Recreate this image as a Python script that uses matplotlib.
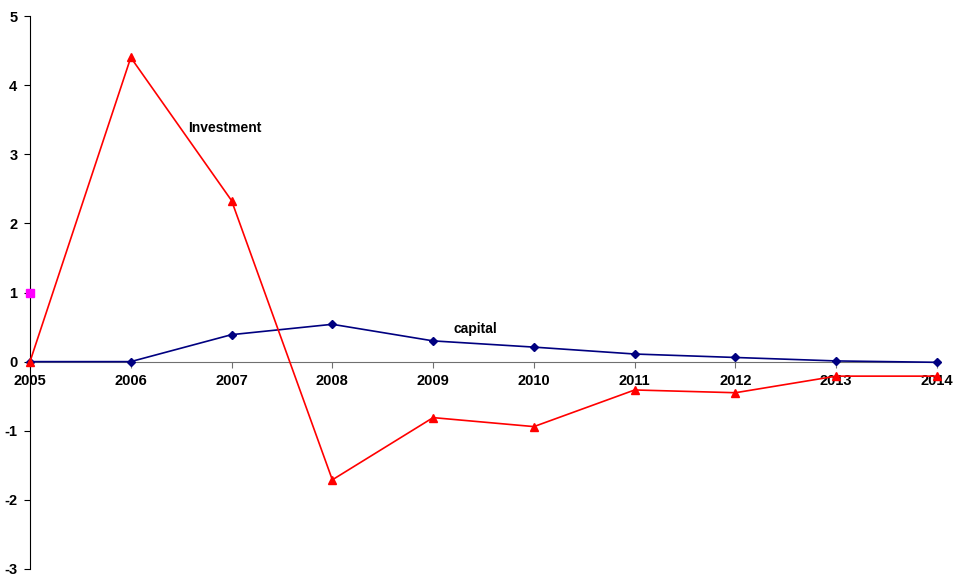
import matplotlib
matplotlib.use("Agg")
import matplotlib.pyplot as plt

plt.rcParams["axes.unicode_minus"] = False

years = [2005, 2006, 2007, 2008, 2009, 2010, 2011, 2012, 2013, 2014]
investment = [0.0, 4.40, 2.33, -1.71, -0.81, -0.94, -0.41, -0.45, -0.21, -0.21]
capital = [0.0, 0.0, 0.39, 0.54, 0.30, 0.21, 0.11, 0.06, 0.01, -0.01]
marker_year = [2005]
marker_value = [1.0]
y_ticks = [-3, -2, -1, 0, 1, 2, 3, 4, 5]

W, H = 954, 577
fig = plt.figure(figsize=(W / 100, H / 100), dpi=100)
ax = fig.add_axes([30 / W, 1 - 569 / H, (937 - 30) / W, (569 - 16) / H])

ax.plot(years, capital, color="#000080", lw=1.2, marker="D", ms=4.5,
        clip_on=False, zorder=3)
ax.plot(years, investment, color="#ff0000", lw=1.2, marker="^", ms=6,
        clip_on=False, zorder=4)
ax.plot(marker_year, marker_value, color="#ff00ff", marker="s", ms=6,
        ls="none", clip_on=False, zorder=5)

ax.set_xlim(2005, 2014)
ax.set_ylim(-3, 5)
ax.set_yticks(y_ticks)
ax.set_xticks(years)

for s in ["top", "right"]:
    ax.spines[s].set_visible(False)
ax.spines["bottom"].set_position(("data", 0))
ax.spines["bottom"].set_color("#707070")
ax.spines["left"].set_color("black")
ax.tick_params(axis="x", direction="out", length=4, color="#707070", pad=5,
               labelsize=10.5)
ax.tick_params(axis="y", direction="out", length=4, pad=5, labelsize=10.5)
for lbl in ax.get_xticklabels() + ax.get_yticklabels():
    lbl.set_fontweight("bold")
    lbl.set_family("Liberation Sans")

ax.text(2006.57, 3.32, "Investment", fontsize=10, fontweight="bold",
        family="Liberation Sans")
ax.text(2009.2, 0.42, "capital", fontsize=10, fontweight="bold",
        family="Liberation Sans")

fig.savefig("out.png", dpi=100)
